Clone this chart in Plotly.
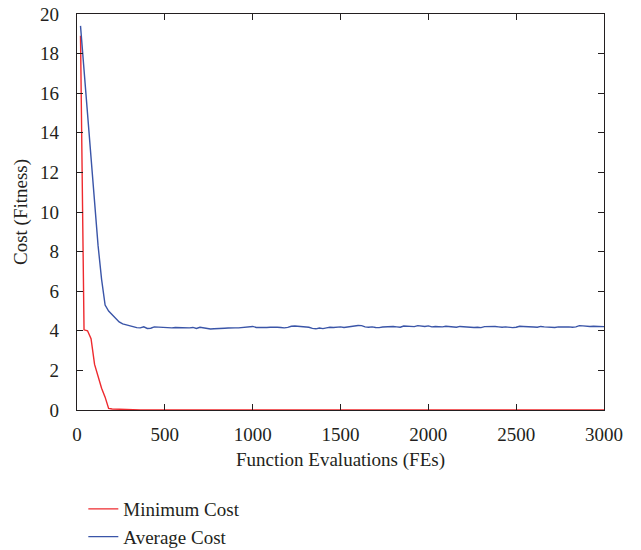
import plotly.graph_objects as go

FEs = list(range(20, 3001, 20))

min_cost = [
    18.9, 4.05, 4.0, 3.6, 2.3, 1.7, 1.1, 0.65, 0.08, 0.05,
    0.04, 0.03, 0.02, 0.01, 0.01, 0.005, 0.005, 0, 0, 0,
    0, 0, 0, 0, 0, 0, 0, 0, 0, 0,
    0, 0, 0, 0, 0, 0, 0, 0, 0, 0,
    0, 0, 0, 0, 0, 0, 0, 0, 0, 0,
    0, 0, 0, 0, 0, 0, 0, 0, 0, 0,
    0, 0, 0, 0, 0, 0, 0, 0, 0, 0,
    0, 0, 0, 0, 0, 0, 0, 0, 0, 0,
    0, 0, 0, 0, 0, 0, 0, 0, 0, 0,
    0, 0, 0, 0, 0, 0, 0, 0, 0, 0,
    0, 0, 0, 0, 0, 0, 0, 0, 0, 0,
    0, 0, 0, 0, 0, 0, 0, 0, 0, 0,
    0, 0, 0, 0, 0, 0, 0, 0, 0, 0,
    0, 0, 0, 0, 0, 0, 0, 0, 0, 0,
    0, 0, 0, 0, 0, 0, 0, 0, 0, 0,
]

avg_cost = [
    19.4, 17.2, 14.8, 12.6, 10.4, 8.3, 6.6, 5.3, 5.0, 4.8,
    4.6, 4.45, 4.35, 4.3, 4.25, 4.22, 4.16, 4.15, 4.2, 4.12,
    4.13, 4.2, 4.19, 4.18, 4.16, 4.17, 4.15, 4.17, 4.16, 4.17,
    4.16, 4.15, 4.17, 4.12, 4.18, 4.15, 4.1, 4.09, 4.1, 4.12,
    4.13, 4.13, 4.14, 4.13, 4.15, 4.15, 4.16, 4.17, 4.18, 4.22,
    4.17, 4.16, 4.15, 4.17, 4.18, 4.19, 4.18, 4.17, 4.15, 4.17,
    4.23, 4.24, 4.22, 4.21, 4.2, 4.18, 4.12, 4.1, 4.14, 4.11,
    4.15, 4.18, 4.17, 4.18, 4.2, 4.17, 4.2, 4.22, 4.25, 4.27,
    4.26, 4.2, 4.18, 4.2, 4.17, 4.16, 4.19, 4.21, 4.2, 4.22,
    4.2, 4.18, 4.24, 4.22, 4.23, 4.21, 4.26, 4.24, 4.22, 4.25,
    4.2, 4.22, 4.21, 4.2, 4.23, 4.21, 4.19, 4.18, 4.22, 4.2,
    4.18, 4.18, 4.17, 4.18, 4.16, 4.21, 4.22, 4.24, 4.22, 4.2,
    4.18, 4.2, 4.17, 4.16, 4.18, 4.23, 4.22, 4.2, 4.21, 4.19,
    4.18, 4.22, 4.2, 4.18, 4.17, 4.17, 4.2, 4.18, 4.19, 4.2,
    4.18, 4.2, 4.26, 4.25, 4.22, 4.22, 4.23, 4.22, 4.22, 4.21,
]

x_ticks = [0, 500, 1000, 1500, 2000, 2500, 3000]
y_ticks = [0, 2, 4, 6, 8, 10, 12, 14, 16, 18, 20]

FONT = "Liberation Serif"
TXT = "#231f20"
FS = 19

fig = go.Figure()
fig.add_trace(go.Scatter(x=FEs, y=min_cost, mode="lines", name="Minimum Cost",
                         line=dict(color="#ee2a2e", width=1.4)))
fig.add_trace(go.Scatter(x=FEs, y=avg_cost, mode="lines", name="Average Cost",
                         line=dict(color="#3a55a8", width=1.4)))

axis_common = dict(showline=True, linecolor="#231f20", linewidth=1.2, mirror="ticks",
                   ticks="inside", ticklen=6, tickwidth=1.2, tickcolor="#231f20",
                   showgrid=False, zeroline=False, automargin=False,
                   tickfont=dict(family=FONT, size=FS, color=TXT))

fig.update_layout(
    width=641, height=550,
    margin=dict(l=77, r=37, t=14, b=140, autoexpand=False),
    paper_bgcolor="white", plot_bgcolor="white",
    font=dict(family=FONT, size=FS, color=TXT),
    xaxis=dict(range=[0, 3000], tickvals=x_ticks, ticklabelstandoff=7,
               title=dict(text="Function Evaluations (FEs)", font=dict(family=FONT, size=FS, color=TXT), standoff=8),
               **axis_common),
    yaxis=dict(range=[0, 20], tickvals=y_ticks, ticklabelstandoff=13,
               title=dict(text="Cost (Fitness)", font=dict(family=FONT, size=FS, color=TXT), standoff=7),
               **axis_common),
    legend=dict(x=0.012, xanchor="left", y=0.109, yanchor="top", yref="container",
                font=dict(family=FONT, size=FS, color=TXT),
                bgcolor="rgba(0,0,0,0)", tracegroupgap=0, itemwidth=30),
    showlegend=True,
)

fig.write_html("out.html")
